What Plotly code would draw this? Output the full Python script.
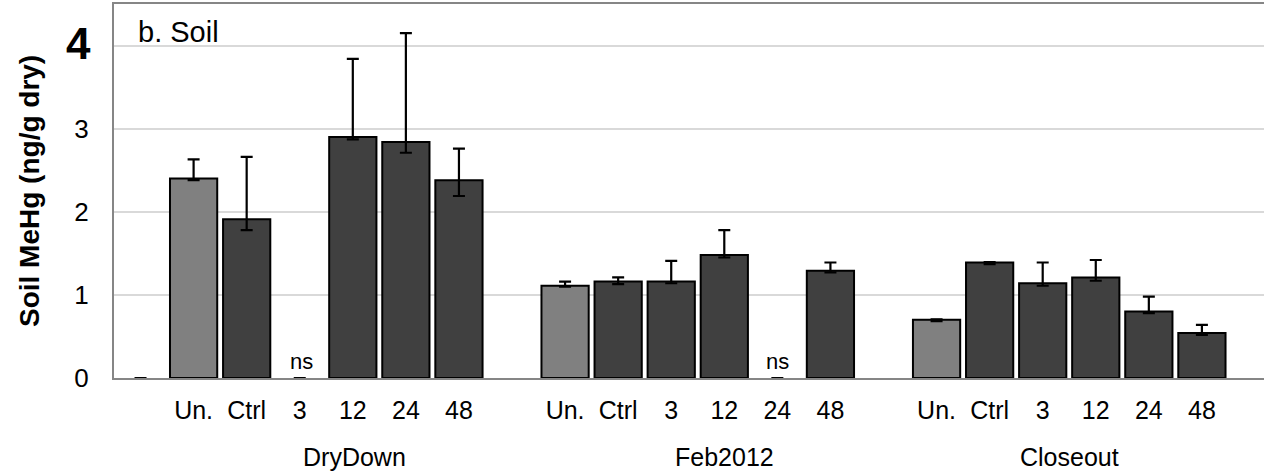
import plotly.graph_objects as go

# ---- data ----
categories = ["", "Un.", "Ctrl", "3", "12", "24", "48",
              "", "Un.", "Ctrl", "3", "12", "24", "48",
              "", "Un.", "Ctrl", "3", "12", "24", "48"]
values = [0, 2.40, 1.91, 0, 2.90, 2.84, 2.38,
          None, 1.11, 1.16, 1.16, 1.48, 0, 1.29,
          None, 0.70, 1.39, 1.14, 1.21, 0.80, 0.54]
err_plus = [0, 0.23, 0.75, 0, 0.94, 1.31, 0.38,
            None, 0.05, 0.05, 0.25, 0.30, 0, 0.10,
            None, 0.005, 0.005, 0.25, 0.21, 0.18, 0.10]
err_minus = [0, 0.02, 0.13, 0, 0.03, 0.13, 0.19,
             None, 0.01, 0.03, 0.02, 0.03, 0, 0.02,
             None, 0.015, 0.02, 0.03, 0.04, 0.02, 0.02]
groups = ["DryDown", "Feb2012", "Closeout"]
ns_labels = ["ns", "ns"]
y_ticks = ["0", "1", "2", "3"]

xs = list(range(len(categories)))
colors = ["#808080" if c == "Un." else "#404040" for c in categories]
line_w = [0 if (v is None or v == 0) else 2 for v in values]

fig = go.Figure(go.Bar(
    x=xs, y=values, width=0.89,
    marker=dict(color=colors, line=dict(color="black", width=line_w)),
    error_y=dict(type="data", symmetric=False, array=err_plus, arrayminus=err_minus,
                 color="black", thickness=2.2, width=6),
    hoverinfo="skip"))

FONT = "Liberation Sans, Arial, sans-serif"
tick_idx = [i for i, c in enumerate(categories) if c]

fig.update_layout(
    width=1264, height=472,
    margin=dict(l=114, r=0, t=4, b=94),
    plot_bgcolor="white", paper_bgcolor="white",
    showlegend=False,
    font=dict(family=FONT, color="black"),
    xaxis=dict(range=[-0.5, 21.17], tickvals=tick_idx,
               ticktext=[categories[i] for i in tick_idx],
               showgrid=False, zeroline=False,
               showline=True, linecolor="#868686", linewidth=2, mirror=True,
               ticks="outside", ticklen=9, tickcolor="rgba(0,0,0,0)",
               tickfont=dict(size=25, family=FONT, color="black")),
    yaxis=dict(range=[0, 4.5], tickvals=[0, 1, 2, 3, 4], ticktext=y_ticks + [""],
               showgrid=True, gridcolor="#d9d9d9", gridwidth=2, zeroline=False,
               showline=True, linecolor="#868686", linewidth=2, mirror=False,
               ticks="outside", ticklen=18, tickcolor="rgba(0,0,0,0)",
               tickfont=dict(size=26, family=FONT, color="black")),
)

annotations = []
# bold "4" tick label
annotations.append(dict(text="<b>4</b>", xref="paper", x=-0.018, xanchor="right",
                        yref="y", y=4, yanchor="middle", yshift=2, showarrow=False,
                        font=dict(size=44, family=FONT, color="black")))
# y title
annotations.append(dict(text="<b>Soil MeHg (ng/g dry)</b>", textangle=-90,
                        xref="paper", x=-0.0739, xanchor="center",
                        yref="paper", y=0.5, yanchor="middle", showarrow=False,
                        font=dict(size=28, family=FONT, color="black")))
# panel label
annotations.append(dict(text="b. Soil", xref="x", x=-0.08, xanchor="left",
                        yref="paper", y=0.925, yanchor="middle", showarrow=False,
                        font=dict(size=29, family=FONT, color="black")))
# group labels
for g, gx in zip(groups, [4.03, 11.0, 17.5]):
    annotations.append(dict(text=g, xref="x", x=gx, xanchor="center",
                            yref="paper", y=-0.211, yanchor="middle", showarrow=False,
                            font=dict(size=25, family=FONT, color="black")))
# ns labels
for lab, nx in zip(ns_labels, [3.04, 12.0]):
    annotations.append(dict(text=lab, xref="x", x=nx, xanchor="center",
                            yref="y", y=0, yanchor="bottom", yshift=2, showarrow=False,
                            font=dict(size=22, family=FONT, color="black")))
fig.update_layout(annotations=annotations)

fig.write_html("out.html", config={"displayModeBar": False},
               post_script="document.body.style.margin='0';")
